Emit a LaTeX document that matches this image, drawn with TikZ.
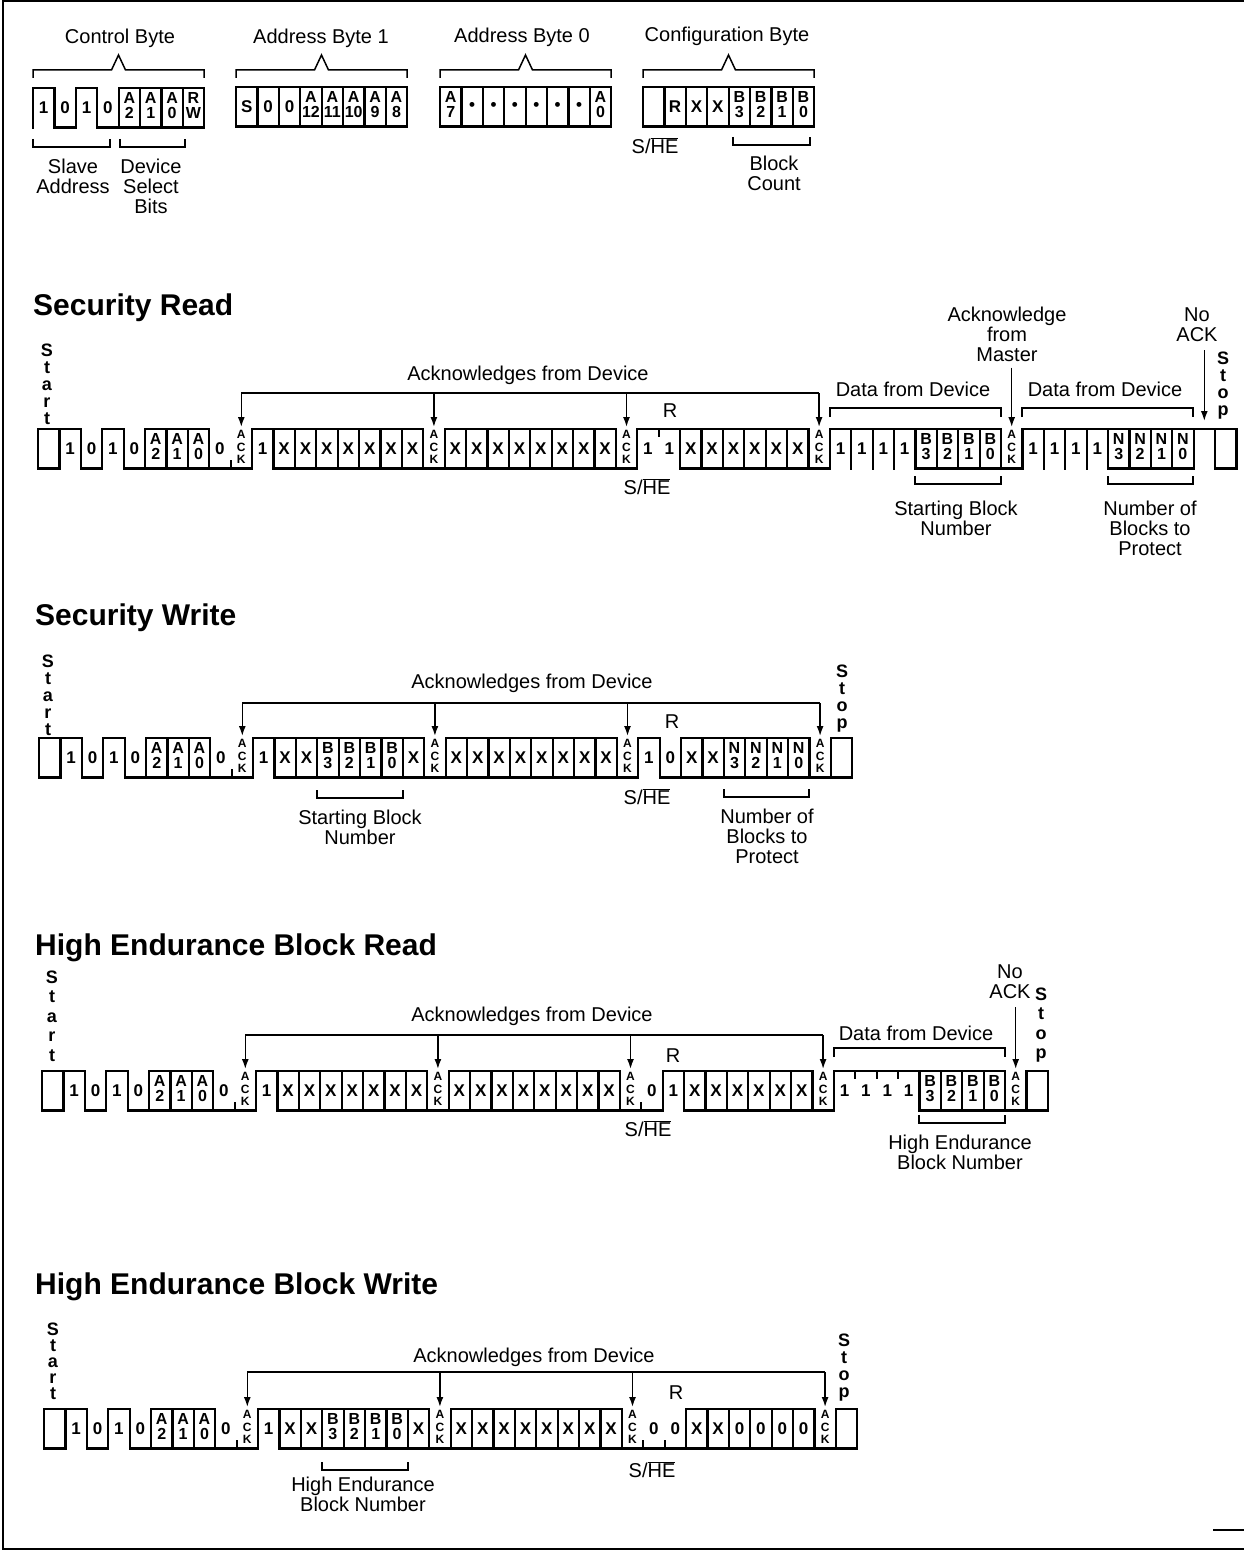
\documentclass[tikz,border=0pt]{standalone}
\usepackage{fontspec}
\setmainfont{Liberation Sans}
\usetikzlibrary{arrows.meta,calc}

\newcommand\tw[2]{{\fontsize{16}{13.5}\selectfont\begin{tabular}{@{}c@{}}#1\\#2\end{tabular}}}
\newcommand\ack{{\fontsize{12}{12.5}\selectfont\begin{tabular}{@{}c@{}}A\\C\\K\end{tabular}}}
\newcommand\she{S/$\overline{\mbox{HE}}$}
\def\cw{21.4}
\def\ch{39.5}

% one bit cell after the other: 0 low, 1 high, 2 box, 3 high+tick, 4 low+tick, 5 high+bar
\newcommand\wave[4]{%
  \gdef\plv{0}%
  \foreach \kind/\txt [count=\n from 0] in {#4}{%
    \pgfmathsetmacro\xa{#2+\n*\cw}%
    \pgfmathsetmacro\xb{\xa+\cw}%
    \pgfmathsetmacro\xm{\xa+\cw/2}%
    \pgfmathsetmacro\yb{#3+\ch}%
    \pgfmathsetmacro\ym{#3+\ch/2}%
    \edef\lv{\ifcase\kind\space 0\or 1\or 2\or 1\or 0\or 1\fi}%
    \ifcase\kind\relax
      \draw[wire] (\xa,\yb) -- (\xb,\yb);
    \or \draw[wire] (\xa,#3) -- (\xb,#3);
    \or \draw[wire] (\xa,#3) rectangle (\xb,\yb);
    \or \draw[wire] (\xa,#3) -- (\xb,#3) (\xa,#3) -- ++(0,7);
    \or \draw[wire] (\xa,\yb) -- (\xb,\yb) (\xa,\yb) -- ++(0,-7);
    \or \draw[wire] (\xa,#3) -- (\xb,#3) (\xa,#3) -- (\xa,\yb);
    \fi
    \ifnum\numexpr\lv+\plv\relax=1 \draw[wire] (\xa,#3) -- (\xa,\yb);\fi
    \coordinate (#1t\n) at (\xm,#3);
    \node[bit] (#1\n) at (\xm,\ym) {\txt};
    \global\let\plv\lv
  }%
}
\newcommand\lowbr[3]{\draw[brk] (#1,#3-8) -- (#1,#3) -- (#2,#3) -- (#2,#3-8);}
\newcommand\upbr[3]{\draw[brk] (#1,#3+9) -- (#1,#3) -- (#2,#3) -- (#2,#3+9);}
\newcommand\hatbr[3]{\draw[brk] (#1,#3+8) -- (#1,#3) -- ({(#1+#2)/2-7},#3) -- ({(#1+#2)/2},#3-15) -- ({(#1+#2)/2+7},#3) -- (#2,#3) -- (#2,#3+8);}

\begin{document}
\begin{tikzpicture}[x=1pt,y=-1pt,
    wire/.style={line width=2.2pt,line cap=rect},
    brk/.style={line width=1.5pt},
    arr/.style={line width=1.5pt,-{Latex[length=10pt,width=7pt]}},
    bit/.style={font=\bfseries\fontsize{17}{17}\selectfont,inner sep=0pt},
    lbl/.style={font=\fontsize{20}{20}\selectfont,align=center,inner sep=0pt},
    vtxt/.style={font=\bfseries\fontsize{18}{17}\selectfont,align=center,inner sep=0pt},
    ttl/.style={font=\bfseries\fontsize{30}{30}\selectfont,anchor=west,inner sep=0pt}]
\useasboundingbox (0,0) rectangle (1244,1552);
\draw[line width=2pt] (1244,1.5) -- (2.5,1.5) -- (2.5,1549) -- (1244,1549);
\draw[line width=1.5pt] (1213,1530) -- (1244,1530);

% byte formats
\node[lbl] (cbyte) at (120,38) {Control Byte};
\node[lbl] (abyte1) at (321,38) {Address Byte 1};
\node[lbl] (abyte0) at (522,37) {Address Byte 0};
\node[lbl] (cfgbyte) at (727,36) {Configuration Byte};
\hatbr{33}{204}{70}
\hatbr{236}{407}{70}
\hatbr{440}{611}{70}
\hatbr{643}{814}{70}
\wave{cb}{33}{88}{1/1,0/0,1/1,0/0,2/\tw{A}{2},2/\tw{A}{1},2/\tw{A}{0},2/\tw{R}{W}}
\wave{ab}{236}{87}{2/S,2/0,2/0,2/\tw{A}{12},2/\tw{A}{11},2/\tw{A}{10},2/\tw{A}{9},2/\tw{A}{8}}
\wave{aa}{440}{87}{2/\tw{A}{7},2/\textbullet,2/\textbullet,2/\textbullet,2/\textbullet,2/\textbullet,2/\textbullet,2/\tw{A}{0}}
\wave{cf}{643}{87}{2/{},2/R,2/X,2/X,2/\tw{B}{3},2/\tw{B}{2},2/\tw{B}{1},2/\tw{B}{0}}
\lowbr{33}{110}{147}
\lowbr{120}{185}{147}
\lowbr{733}{810}{145}
\node[lbl] (slave) at (73,176) {Slave\\Address};
\node[lbl] (devsel) at (151,186) {Device\\Select\\Bits};
\node[lbl] (cfshe) at (655,146) {\she};
\node[lbl] (bcount) at (774,173) {Block\\Count};

% Security Read
\node[ttl] (srtitle) at (33,308) {Security Read};
\node[vtxt] (srstart) at (47,384) {S\\t\\a\\r\\t};
\wave{sr}{38}{429}{2/{},1/1,0/0,1/1,0/0,2/\tw{A}{2},2/\tw{A}{1},2/\tw{A}{0},0/0,4/\ack,%
 1/1,2/X,2/X,2/X,2/X,2/X,2/X,2/X,0/\ack,%
 2/X,2/X,2/X,2/X,2/X,2/X,2/X,2/X,0/\ack,%
 1/1,3/1,2/X,2/X,2/X,2/X,2/X,2/X,0/\ack,%
 1/1,5/1,5/1,5/1,2/\tw{B}{3},2/\tw{B}{2},2/\tw{B}{1},2/\tw{B}{0},0/\ack,%
 1/1,5/1,5/1,5/1,2/\tw{N}{3},2/\tw{N}{2},2/\tw{N}{1},2/\tw{N}{0},1/{},2/{}}
\node[lbl] (srackdev) at (528,375) {Acknowledges from Device};
\coordinate (srbus) at (0,393);
\draw[brk] (srt9 |- srbus) -- (srt36 |- srbus);
\foreach \k in {9,18,27,36} \draw[arr] (srt\k |- srbus) -- ([yshift=2pt]srt\k);
\node[lbl] (srr) at (670,411) {R};
\node[lbl] (srshe) at (647,487) {\she};
\node[lbl] (srdata1) at (913,389) {Data from Device};
\node[lbl] (srdata2) at (1105,389) {Data from Device};
\upbr{830}{1001}{408}
\upbr{1022}{1193}{408}
\node[lbl] (srmaster) at (1007,334) {Acknowledge\\from\\Master};
\draw[arr] ([yshift=-6pt]srmaster.south -| srt45) -- ([yshift=2pt]srt45);
\node[lbl] (srnoack) at (1197,325) {No\\ACK};
\draw[arr] ([yshift=-8pt]srnoack.south -| srt54) -- ([yshift=8pt]srt54);
\node[vtxt] (srstop) at (1223,386) {S\\t\\o\\p};
\lowbr{915}{1001}{484}
\lowbr{1108}{1193}{484}
\node[lbl] (srstartblk) at (956,518) {Starting Block\\Number};
\node[lbl] (srnblk) at (1150,528) {Number of\\Blocks to\\Protect};

% Security Write
\node[ttl] (swtitle) at (35,618) {Security Write};
\node[vtxt] (swstart) at (48,695) {S\\t\\a\\r\\t};
\wave{sw}{39}{738}{2/{},1/1,0/0,1/1,0/0,2/\tw{A}{2},2/\tw{A}{1},2/\tw{A}{0},0/0,4/\ack,%
 1/1,2/X,2/X,2/\tw{B}{3},2/\tw{B}{2},2/\tw{B}{1},2/\tw{B}{0},2/X,0/\ack,%
 2/X,2/X,2/X,2/X,2/X,2/X,2/X,2/X,0/\ack,%
 1/1,0/0,2/X,2/X,2/\tw{N}{3},2/\tw{N}{2},2/\tw{N}{1},2/\tw{N}{0},0/\ack,2/{}}
\node[lbl] (swackdev) at (532,683) {Acknowledges from Device};
\coordinate (swbus) at (0,703);
\draw[brk] (swt9 |- swbus) -- (swt36 |- swbus);
\foreach \k in {9,18,27,36} \draw[arr] (swt\k |- swbus) -- ([yshift=2pt]swt\k);
\node[lbl] (swr) at (672,722) {R};
\node[lbl] (swshe) at (647,797) {\she};
\node[vtxt] (swstop) at (842,699) {S\\t\\o\\p};
\lowbr{317}{403}{798}
\lowbr{724}{809}{797}
\node[lbl] (swstartblk) at (360,827) {Starting Block\\Number};
\node[lbl] (swnblk) at (767,836) {Number of\\Blocks to\\Protect};

% High Endurance Block Read
\node[ttl] (hrtitle) at (35,948) {High Endurance Block Read};
\node[vtxt,font=\bfseries\fontsize{18}{19.5}\selectfont] (hrstart) at (52,1016) {S\\t\\a\\r\\t};
\wave{hr}{42}{1071}{2/{},1/1,0/0,1/1,0/0,2/\tw{A}{2},2/\tw{A}{1},2/\tw{A}{0},0/0,4/\ack,%
 1/1,2/X,2/X,2/X,2/X,2/X,2/X,2/X,0/\ack,%
 2/X,2/X,2/X,2/X,2/X,2/X,2/X,2/X,0/\ack,%
 4/0,1/1,2/X,2/X,2/X,2/X,2/X,2/X,0/\ack,%
 1/1,3/1,3/1,3/1,2/\tw{B}{3},2/\tw{B}{2},2/\tw{B}{1},2/\tw{B}{0},0/\ack,2/{}}
\node[lbl] (hrackdev) at (532,1016) {Acknowledges from Device};
\coordinate (hrbus) at (0,1035);
\draw[brk] (hrt9 |- hrbus) -- (hrt36 |- hrbus);
\foreach \k in {9,18,27,36} \draw[arr] (hrt\k |- hrbus) -- ([yshift=2pt]hrt\k);
\node[lbl] (hrr) at (673,1056) {R};
\node[lbl] (hrshe) at (648,1129) {\she};
\node[lbl] (hrdata) at (916,1033) {Data from Device};
\upbr{834}{1005}{1048}
\node[lbl] (hrnoack) at (1010,982) {No\\ACK};
\draw[arr] ([yshift=-8pt]hrnoack.south -| hrt45) -- ([yshift=2pt]hrt45);
\node[vtxt,font=\bfseries\fontsize{18}{19.5}\selectfont] (hrstop) at (1041,1025) {S\\t\\o\\p};
\lowbr{919}{1005}{1123}
\node[lbl] (hrheblk) at (960,1152) {High Endurance\\Block Number};

% High Endurance Block Write
\node[ttl] (hwtitle) at (35,1287) {High Endurance Block Write};
\node[vtxt,font=\bfseries\fontsize{18}{16}\selectfont] (hwstart) at (53,1361) {S\\t\\a\\r\\t};
\wave{hw}{44}{1409}{2/{},1/1,0/0,1/1,0/0,2/\tw{A}{2},2/\tw{A}{1},2/\tw{A}{0},0/0,4/\ack,%
 1/1,2/X,2/X,2/\tw{B}{3},2/\tw{B}{2},2/\tw{B}{1},2/\tw{B}{0},2/X,0/\ack,%
 2/X,2/X,2/X,2/X,2/X,2/X,2/X,2/X,0/\ack,%
 4/0,4/0,2/X,2/X,2/0,2/0,2/0,2/0,0/\ack,2/{}}
\node[lbl] (hwackdev) at (534,1357) {Acknowledges from Device};
\coordinate (hwbus) at (0,1372);
\draw[brk] (hwt9 |- hwbus) -- (hwt36 |- hwbus);
\foreach \k in {9,18,27,36} \draw[arr] (hwt\k |- hwbus) -- ([yshift=2pt]hwt\k);
\node[lbl] (hwr) at (676,1393) {R};
\node[lbl] (hwshe) at (652,1470) {\she};
\node[vtxt] (hwstop) at (844,1368) {S\\t\\o\\p};
\lowbr{322}{408}{1470}
\node[lbl] (hwheblk) at (363,1494) {High Endurance\\Block Number};
\end{tikzpicture}
\end{document}
